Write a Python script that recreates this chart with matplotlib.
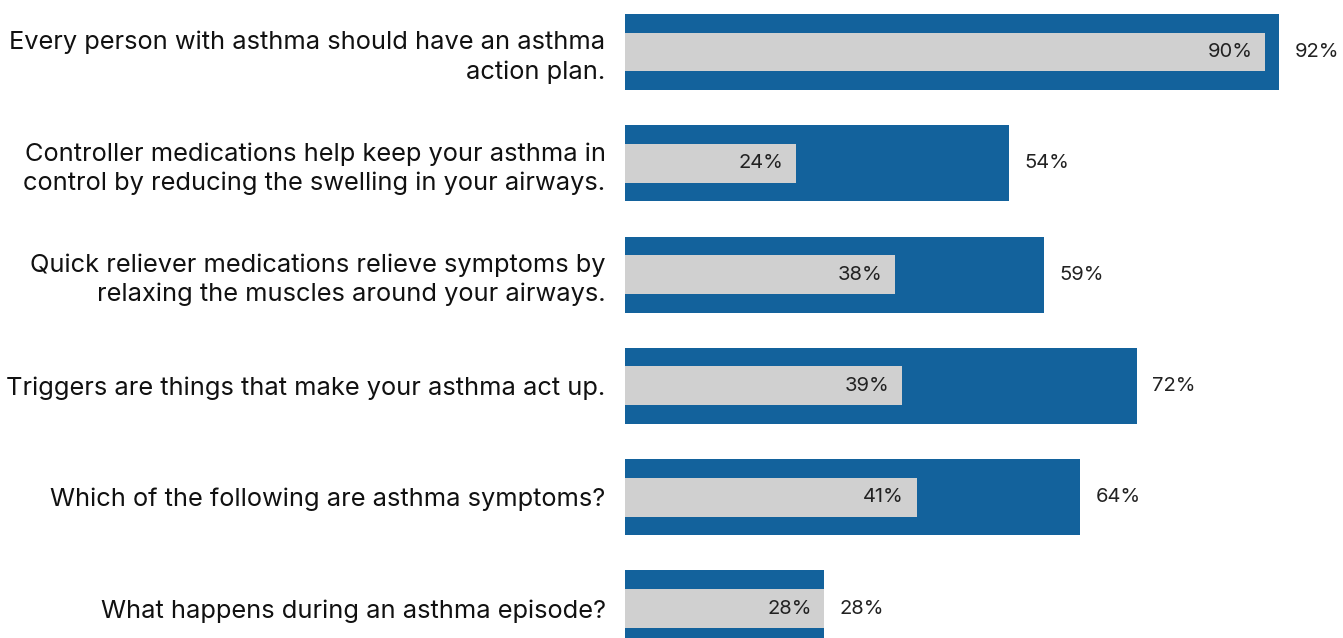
import matplotlib.pyplot as plt
import numpy as np

plt.rcParams['font.family'] = ['Inter', 'DejaVu Sans']

questions = [
    'Every person with asthma should have an asthma\naction plan.',
    'Controller medications help keep your asthma in\ncontrol by reducing the swelling in your airways.',
    'Quick reliever medications relieve symptoms by\nrelaxing the muscles around your airways.',
    'Triggers are things that make your asthma act up.',
    'Which of the following are asthma symptoms?',
    'What happens during an asthma episode?',
]
post = [92, 54, 59, 72, 64, 28]
pre = [90, 24, 38, 39, 41, 28]

blue = '#13629c'
gray = '#d0d0d0'

fig = plt.figure(figsize=(13.43, 6.38), dpi=100)
ax = fig.add_axes([625 / 1343, 0, 711 / 1343, 1])

y = np.arange(len(questions))
ax.barh(y, post, height=0.683, color=blue)
ax.barh(y, pre, height=0.35, color=gray)

for yi, a, b in zip(y, pre, post):
    ax.annotate(f'{a}%', (a, yi), xytext=(-9, 0), textcoords='offset points',
                ha='right', va='center', fontsize=14.5, color='#222222')
    ax.annotate(f'{b}%', (b, yi), xytext=(11, 0), textcoords='offset points',
                ha='left', va='center', fontsize=14.5, color='#222222',
                annotation_clip=False)

ax.set_xlim(0, 100)
ax.set_ylim(5.265, -0.467)
ax.set_yticks(y)
ax.set_yticklabels(questions, fontsize=18.3, color='#111111', linespacing=1.3)
ax.tick_params(axis='y', length=0, pad=14)
ax.set_xticks([])
for s in ax.spines.values():
    s.set_visible(False)

fig.savefig('out.png', dpi=100)
